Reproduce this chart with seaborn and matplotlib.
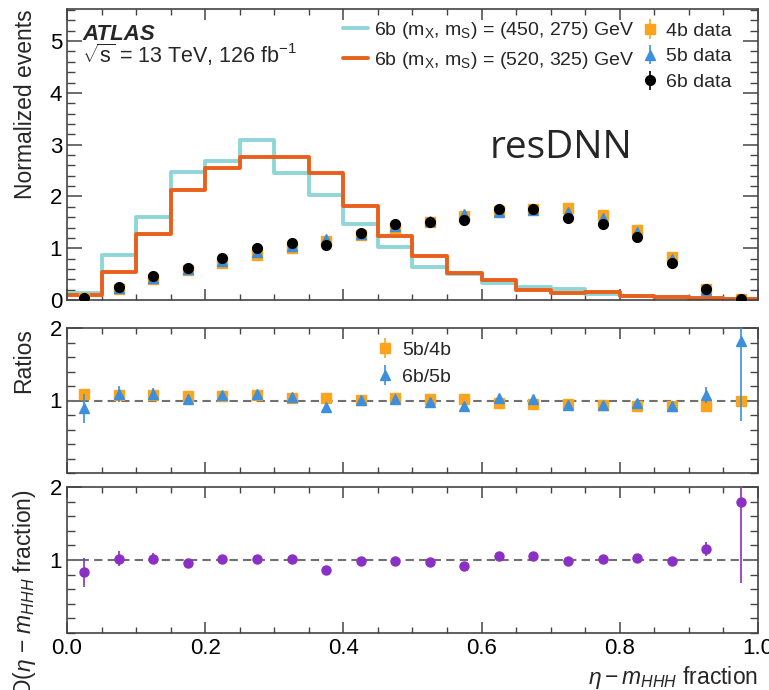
import numpy as np
import pandas as pd
import matplotlib
matplotlib.use("Agg")
import matplotlib.pyplot as plt
import seaborn as sns
from matplotlib.lines import Line2D
from matplotlib.ticker import MultipleLocator

# ---------------- data ----------------
bin_edges = [0.00, 0.05, 0.10, 0.15, 0.20, 0.25, 0.30, 0.35, 0.40, 0.45, 0.50,
             0.55, 0.60, 0.65, 0.70, 0.75, 0.80, 0.85, 0.90, 0.95, 1.00]

sig_450_275 = [0.13, 0.86, 1.60, 2.48, 2.69, 3.09, 2.45, 2.03, 1.47, 1.02,
               0.63, 0.50, 0.32, 0.26, 0.21, 0.12, 0.07, 0.05, 0.02, 0.01]
sig_520_325 = [0.10, 0.55, 1.27, 2.12, 2.55, 2.76, 2.77, 2.45, 1.81, 1.24,
               0.85, 0.53, 0.39, 0.19, 0.14, 0.15, 0.08, 0.05, 0.03, 0.02]

data_4b = [0.03, 0.22, 0.40, 0.57, 0.72, 0.86, 1.01, 1.13, 1.26, 1.39,
           1.50, 1.63, 1.72, 1.76, 1.77, 1.65, 1.36, 0.84, 0.21, 0.01]
data_5b = [0.03, 0.24, 0.43, 0.60, 0.76, 0.92, 1.05, 1.18, 1.27, 1.43,
           1.53, 1.66, 1.69, 1.73, 1.70, 1.58, 1.31, 0.79, 0.19, 0.01]
data_6b = [0.03, 0.26, 0.47, 0.62, 0.82, 1.01, 1.11, 1.07, 1.29, 1.46,
           1.51, 1.54, 1.75, 1.76, 1.59, 1.47, 1.22, 0.71, 0.21, 0.02]
data_err = [0.01, 0.02, 0.02, 0.02, 0.02, 0.02, 0.02, 0.02, 0.02, 0.02,
            0.02, 0.02, 0.02, 0.02, 0.02, 0.02, 0.02, 0.02, 0.02, 0.01]

ratio_5b4b = [1.09, 1.07, 1.07, 1.06, 1.06, 1.07, 1.04, 1.04, 1.01, 1.03,
              1.02, 1.02, 0.97, 0.95, 0.95, 0.94, 0.93, 0.92, 0.93, 1.00]
ratio_5b4b_err = [0.05, 0.03, 0.02, 0.02, 0.02, 0.02, 0.02, 0.02, 0.02, 0.02,
                  0.02, 0.02, 0.02, 0.02, 0.02, 0.02, 0.02, 0.02, 0.03, 0.05]
ratio_6b5b = [0.89, 1.09, 1.09, 1.02, 1.07, 1.09, 1.05, 0.91, 1.01, 1.02,
              0.98, 0.93, 1.04, 1.02, 0.94, 0.94, 0.96, 0.92, 1.08, 1.82]
ratio_6b5b_err = [0.20, 0.11, 0.08, 0.05, 0.04, 0.04, 0.04, 0.03, 0.03, 0.03,
                  0.03, 0.03, 0.03, 0.03, 0.03, 0.03, 0.04, 0.05, 0.11, 1.10]

ks_vals = [0.83, 1.02, 1.02, 0.96, 1.01, 1.01, 1.02, 0.86, 0.99, 0.98,
           0.97, 0.92, 1.06, 1.06, 0.98, 1.01, 1.03, 0.99, 1.15, 1.79]
ks_err = [0.20, 0.10, 0.07, 0.03, 0.03, 0.03, 0.03, 0.03, 0.03, 0.03,
          0.03, 0.03, 0.03, 0.03, 0.03, 0.03, 0.03, 0.03, 0.10, 1.10]

# ---------------- style ----------------
sns.set_theme(style="ticks")
plt.rcParams["font.family"] = ["Liberation Sans", "DejaVu Sans"]
plt.rcParams["mathtext.fontset"] = "custom"
plt.rcParams["mathtext.rm"] = "Liberation Sans"
plt.rcParams["mathtext.it"] = "Liberation Sans:italic"
plt.rcParams["mathtext.bf"] = "Liberation Sans:bold"

C_CYAN = "#8fd6d8"
C_ORNG = "#e8601c"
C_4B = "#fca51c"
C_5B = "#3d8fdc"
C_PURP = "#8a30c4"
SPINE = "#444444"

W, H = 769, 690
fig = plt.figure(figsize=(W / 100, H / 100), dpi=100)

def px_axes(x0, y0, x1, y1):
    return fig.add_axes([x0 / W, 1 - y1 / H, (x1 - x0) / W, (y1 - y0) / H])

ax1 = px_axes(67, 9, 758, 300)
ax2 = px_axes(67, 328, 758, 473)
ax3 = px_axes(67, 487, 758, 633)

edges = np.array(bin_edges)
centers = 0.5 * (edges[:-1] + edges[1:])
binw = float(edges[1] - edges[0])

hist_df = pd.DataFrame({"x": centers, "w450": sig_450_275, "w520": sig_520_325})

# ---------------- top panel ----------------
sns.histplot(data=hist_df, x="x", weights="w450", binwidth=binw,
             binrange=(edges[0], edges[-1]), element="step", fill=False,
             color=C_CYAN, linewidth=2.8, ax=ax1)
sns.histplot(data=hist_df, x="x", weights="w520", binwidth=binw,
             binrange=(edges[0], edges[-1]), element="step", fill=False,
             color=C_ORNG, linewidth=2.8, ax=ax1)

ax1.errorbar(centers, data_4b, yerr=data_err, fmt="s", color=C_4B, ms=6.5,
             elinewidth=1.2, capsize=0, zorder=3)
ax1.errorbar(centers, data_5b, yerr=data_err, fmt="^", color=C_5B, ms=7,
             elinewidth=1.2, capsize=0, zorder=4)
ax1.errorbar(centers, data_6b, yerr=data_err, fmt="o", color="black", ms=7,
             elinewidth=1.2, capsize=0, zorder=5)

ax1.set_ylim(0, 5.62)
ax1.set_ylabel("Normalized events", fontsize=16.5, loc="top")

fig.text(82 / W, 1 - 40 / H, "ATLAS", fontsize=16, fontweight="bold",
         fontstyle="italic", ha="left", va="baseline")
fig.text(82 / W, 1 - 63 / H, r"$\sqrt{\rm s}$ = 13 TeV, 126 fb$^{-1}$",
         fontsize=15.5, ha="left", va="baseline")
fig.text(490 / W, 1 - 158 / H, "resDNN", fontsize=28, family="Open Sans",
         ha="left", va="baseline")

h_line1 = Line2D([], [], color=C_CYAN, lw=2.8)
h_line2 = Line2D([], [], color=C_ORNG, lw=2.8)
leg1 = ax1.legend([h_line1, h_line2],
                  [r"6b (m$_{\rm X}$, m$_{\rm S}$) = (450, 275) GeV",
                   r"6b (m$_{\rm X}$, m$_{\rm S}$) = (520, 325) GeV"],
                  loc="upper left", bbox_to_anchor=(343 / W, 1 - 20 / H),
                  bbox_transform=fig.transFigure, frameon=False,
                  fontsize=14, handlelength=1.3, handletextpad=0.3,
                  labelspacing=0.45, borderpad=0, borderaxespad=0)
ax1.add_artist(leg1)

h4 = ax1.errorbar([], [], yerr=[], fmt="s", color=C_4B, ms=6.5, elinewidth=1.2)
h5 = ax1.errorbar([], [], yerr=[], fmt="^", color=C_5B, ms=7, elinewidth=1.2)
h6 = ax1.errorbar([], [], yerr=[], fmt="o", color="black", ms=7, elinewidth=1.2)
ax1.legend([h4, h5, h6], ["4b data", "5b data", "6b data"],
           loc="upper left", bbox_to_anchor=(640 / W, 1 - 22 / H),
           bbox_transform=fig.transFigure, frameon=False, fontsize=14,
           handlelength=1.0, handletextpad=0.35, labelspacing=0.42,
           borderpad=0, borderaxespad=0)

# ---------------- ratio panel ----------------
ax2.axhline(1.0, color="#707070", lw=1.5, ls=(0, (4, 2.5)), zorder=1)
e54 = ax2.errorbar(centers, ratio_5b4b, yerr=ratio_5b4b_err, fmt="s",
                   color=C_4B, ms=6.5, elinewidth=1.2, capsize=0, zorder=3)
e65 = ax2.errorbar(centers, ratio_6b5b, yerr=ratio_6b5b_err, fmt="^",
                   color=C_5B, ms=7, elinewidth=1.2, capsize=0, zorder=4)
ax2.set_ylim(0, 2)
ax2.set_ylabel("Ratios", fontsize=16.5, loc="top")
ax2.legend([e54, e65], ["5b/4b", "6b/5b"], loc="upper left",
           bbox_to_anchor=(375 / W, 1 - 341 / H), bbox_transform=fig.transFigure,
           frameon=False, fontsize=14, handlelength=1.0, handletextpad=0.4,
           labelspacing=0.5, borderpad=0, borderaxespad=0)

# ---------------- KS panel ----------------
ax3.axhline(1.0, color="#707070", lw=1.5, ls=(0, (4, 2.5)), zorder=1)
ax3.errorbar(centers, ks_vals, yerr=ks_err, fmt="o", color=C_PURP, ms=6.5,
             elinewidth=1.2, capsize=0, zorder=3)
ax3.set_ylim(0, 2)
ax3.set_xlabel(r"$\eta - m_{HHH}$ fraction", fontsize=16.5, loc="right")
fig.text(38 / W, 1 - 489 / H, r"D($\eta$ $-$ $m_{HHH}$ fraction)", fontsize=16.5,
         rotation=90, ha="right", va="top", rotation_mode="default")

# ---------------- axes styling ----------------
for ax in (ax1, ax2, ax3):
    ax.set_xlim(0, 1)
    ax.xaxis.set_major_locator(MultipleLocator(0.2))
    ax.xaxis.set_minor_locator(MultipleLocator(0.05))
    ax.yaxis.set_major_locator(MultipleLocator(1))
    ax.yaxis.set_minor_locator(MultipleLocator(0.2))
    ax.tick_params(axis="both", which="both", direction="in", top=True,
                   right=True, colors=SPINE, labelcolor="black", labelsize=16)
    ax.tick_params(axis="y", which="major", length=11, width=1.1)
    ax.tick_params(axis="y", which="minor", length=5.5, width=1.0)
    ax.tick_params(axis="x", which="major", length=8, width=1.1)
    ax.tick_params(axis="x", which="minor", length=4.5, width=1.0)
    for s in ax.spines.values():
        s.set_color(SPINE)
        s.set_linewidth(1.2)
    if ax is not ax3:
        ax.tick_params(axis="x", labelbottom=False)
        ax.set_xlabel("")

ax2.set_yticks([1, 2])
ax3.set_yticks([1, 2])
ax2.yaxis.set_minor_locator(MultipleLocator(0.2))
ax3.yaxis.set_minor_locator(MultipleLocator(0.2))
ax1.yaxis.set_label_coords(-0.043, 1.0)
ax2.yaxis.set_label_coords(-0.046, 1.0)

fig.savefig("out.png", dpi=100)
